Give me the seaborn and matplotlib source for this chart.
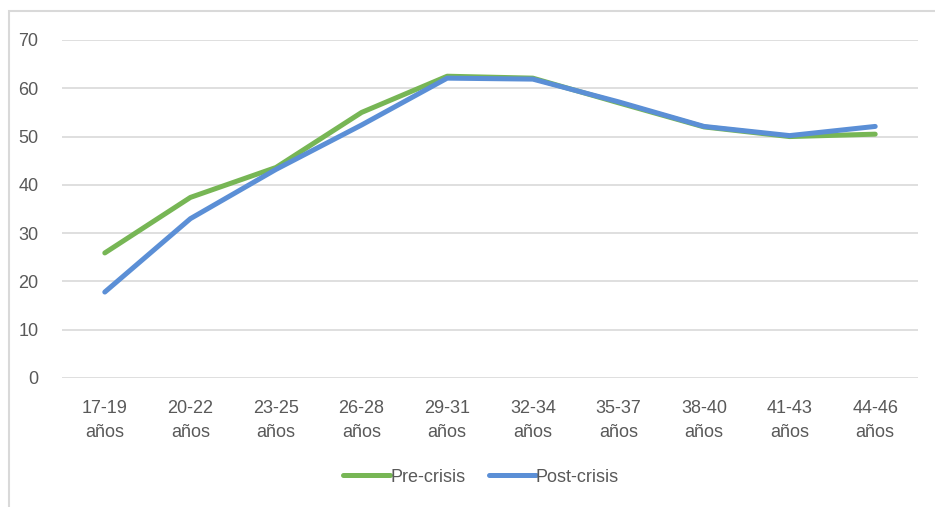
import matplotlib
matplotlib.use("Agg")
import matplotlib.pyplot as plt
from matplotlib.patches import Rectangle
from matplotlib.lines import Line2D
import seaborn as sns
import pandas as pd

# Age brackets and employment rates by period
categories = ["17-19\naños", "20-22\naños", "23-25\naños", "26-28\naños", "29-31\naños",
              "32-34\naños", "35-37\naños", "38-40\naños", "41-43\naños", "44-46\naños"]
pre_crisis = [25.9, 37.4, 43.6, 55.0, 62.5, 62.1, 57.0, 52.0, 50.0, 50.5]
post_crisis = [17.8, 33.0, 43.2, 52.4, 62.1, 61.9, 57.2, 52.1, 50.2, 52.1]
series_names = ["Pre-crisis", "Post-crisis"]
yticks = [0, 10, 20, 30, 40, 50, 60, 70]

sns.set_theme(style="white")
plt.rcParams["font.family"] = ["Liberation Sans Narrow", "Liberation Sans", "DejaVu Sans"]

df = pd.DataFrame({
    "pos": list(range(len(categories))) * 2,
    "value": pre_crisis + post_crisis,
    "serie": [series_names[0]] * len(categories) + [series_names[1]] * len(categories),
})

W, H = 935, 507
fig = plt.figure(figsize=(W / 100, H / 100), dpi=100)
fig.patch.set_facecolor("white")

# chart frame
fig.patches.append(Rectangle((9 / W, -0.1), 1.2, 1 - 11 / H + 0.1, transform=fig.transFigure,
                             fill=False, edgecolor="#d9d9d9", linewidth=1.5, zorder=0))

left, right, top, bottom = 62, 918, 40, 378
ax = fig.add_axes([left / W, 1 - bottom / H, (right - left) / W, (bottom - top) / H])

palette = {"Pre-crisis": "#77b655", "Post-crisis": "#5b8fd6"}
sns.lineplot(data=df, x="pos", y="value", hue="serie", palette=palette, linewidth=3.6,
             ax=ax, legend=False, solid_capstyle="round", solid_joinstyle="round")

ax.set_xlim(-0.5, len(categories) - 0.5)
ax.set_ylim(0, 70)
ax.set_yticks(yticks)
ax.set_yticklabels([str(v) for v in yticks])
ax.set_xticks(range(len(categories)))
ax.set_xticklabels(categories, linespacing=1.55)
ax.grid(axis="y", color="#d9d9d9", linewidth=1.2)
ax.grid(axis="x", visible=False)
ax.set_axisbelow(True)
for s in ax.spines.values():
    s.set_visible(False)
ax.tick_params(axis="both", length=0, labelsize=13, colors="#595959")
ax.tick_params(axis="y", pad=17)
ax.tick_params(axis="x", pad=16)
ax.set_xlabel("")
ax.set_ylabel("")

handles = [Line2D([], [], color=palette[n], linewidth=3.6, solid_capstyle="round") for n in series_names]
fig.legend(handles, series_names, loc="center", bbox_to_anchor=(481 / W, 1 - 477 / H), ncol=2,
           frameon=False, fontsize=13, labelcolor="#595959", handlelength=2.6,
           handletextpad=0.0, columnspacing=1.3)

fig.savefig("out.png", dpi=100, facecolor="white")
